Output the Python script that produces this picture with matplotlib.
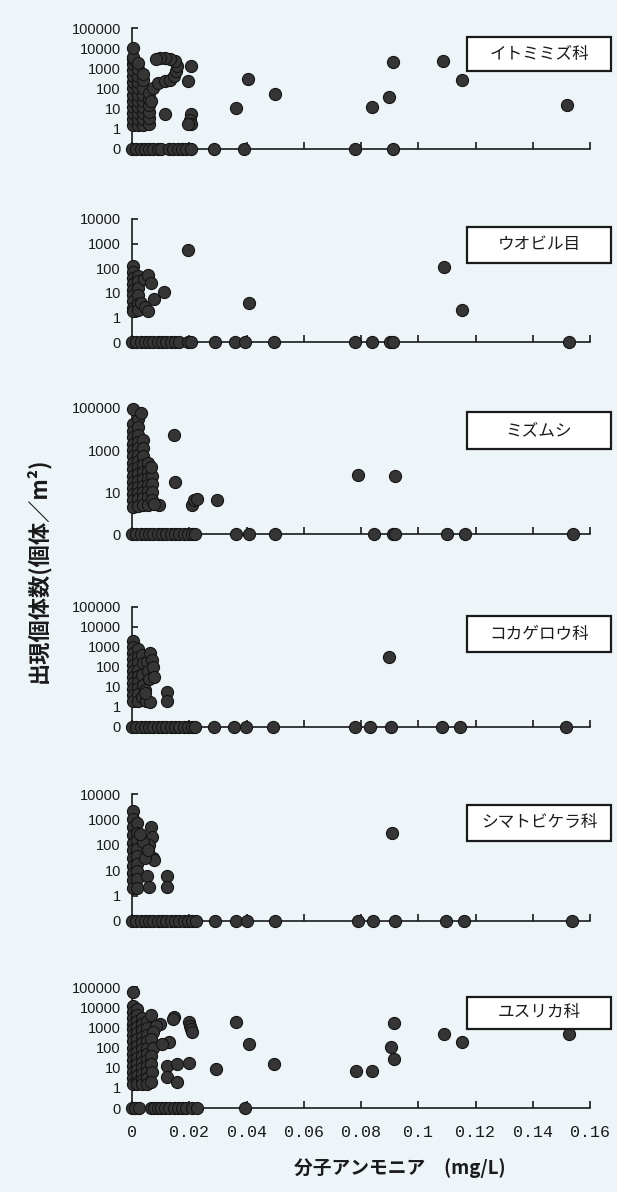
import matplotlib
matplotlib.use('Agg')
import matplotlib.pyplot as plt
from matplotlib.patches import Rectangle
from matplotlib.ticker import NullLocator

plt.rcParams['font.family'] = ['Liberation Sans', 'Noto Sans CJK JP', 'DejaVu Sans']

# ---- data ----
names = ['イトミミズ科', 'ウオビル目', 'ミズムシ', 'コカゲロウ科', 'シマトビケラ科', 'ユスリカ科']

itomimizu_x = [
    0.0004, 0.0004, 0.0004, 0.0004, 0.0004, 0.0004, 0.0004, 0.0004, 0.0004, 0.0004, 0.0004, 0.0004, 0.0004, 0.0003,
    0.0022, 0.0022, 0.0022, 0.0022, 0.0022, 0.0022, 0.0022, 0.0022, 0.0022, 0.0022, 0.0022,
    0.004, 0.004, 0.004, 0.004, 0.004, 0.004, 0.004, 0.004, 0.004,
    0.0058, 0.0058, 0.0058, 0.0058, 0.0058, 0.0058, 0.0068,
    0.0075, 0.0092, 0.0115, 0.0133, 0.0146, 0.0154, 0.0158, 0.015, 0.0134, 0.0116, 0.0098, 0.0083,
    0.0117, 0.0205, 0.0194, 0.0205, 0.0201, 0.0207, 0.0194,
    0.0362, 0.0406, 0.0498, 0.084, 0.0899, 0.0913, 0.1087, 0.1152, 0.1521]
itomimizu_y = [
    1.6, 3, 6, 12, 25, 50, 100, 200, 400, 800, 1600, 2800, 3800, 10000,
    1.6, 3, 6, 12, 25, 50, 100, 200, 400, 900, 1800,
    1.6, 3, 6, 12, 25, 50, 110, 250, 500,
    1.7, 3.5, 7, 15, 30, 60, 25,
    100, 180, 230, 270, 420, 750, 1300, 2300, 2800, 3100, 3100, 2800,
    5.6, 1350, 240, 5.6, 2.6, 1.8, 1.8,
    11, 295, 52, 12, 38, 2000, 2300, 260, 15]
itomimizu_zero_x = [0, 0.0015, 0.003, 0.0045, 0.006, 0.0075, 0.009, 0.0103, 0.0128, 0.0142, 0.016,
                    0.0175, 0.019, 0.0205, 0.0288, 0.0392, 0.078, 0.0913]

uobiru_x = [
    0.0004, 0.0004, 0.0004, 0.0004, 0.0004, 0.0004, 0.0004, 0.0004, 0.0004,
    0.002, 0.002, 0.002, 0.002, 0.002, 0.002,
    0.0041, 0.0055, 0.0065, 0.003, 0.0047, 0.0055,
    0.0077, 0.0112, 0.0195, 0.0407, 0.109, 0.1154]
uobiru_y = [
    120, 70, 40, 22, 13, 8, 4.5, 2.5, 1.9,
    50, 30, 15, 8, 3.5, 2,
    37, 53, 25, 4, 2.6, 1.9,
    5.6, 10.5, 560, 3.9, 117, 1.95]
uobiru_zero_x = [0, 0.0015, 0.003, 0.0045, 0.006, 0.0075, 0.009, 0.0105, 0.012, 0.0135, 0.015, 0.0165,
                 0.0195, 0.0205, 0.0289, 0.036, 0.0395, 0.0496, 0.078, 0.084, 0.0903, 0.0912, 0.1525]

mizumushi_x = [
    0.0004, 0.0004, 0.0004, 0.0004, 0.0004, 0.0004, 0.0004, 0.0004, 0.0004, 0.0004, 0.0004, 0.0004, 0.0004, 0.0004,
    0.002, 0.002, 0.002, 0.002, 0.002, 0.002, 0.002, 0.002, 0.002, 0.002, 0.002, 0.002, 0.002, 0.002,
    0.0038, 0.0038, 0.0038, 0.0038, 0.0038, 0.0038, 0.0038, 0.0038, 0.0038, 0.0038,
    0.0055, 0.0055, 0.0055, 0.0055, 0.0055, 0.0055, 0.0055,
    0.007, 0.007, 0.007, 0.007,
    0.0005, 0.003, 0.0067, 0.0095, 0.0078,
    0.0148, 0.015, 0.0208, 0.0215, 0.0226, 0.0297, 0.079, 0.092]
mizumushi_y = [
    18000, 8000, 4000, 2000, 1000, 500, 250, 120, 60, 30, 15, 8, 4, 2,
    30000, 12000, 5000, 2500, 1200, 600, 300, 150, 70, 35, 18, 9, 4.5, 2.2,
    3000, 1200, 500, 200, 90, 40, 20, 10, 5, 2.5,
    250, 100, 45, 22, 11, 5.5, 2.5,
    60, 25, 10, 4,
    89000, 55000, 160, 2.3, 2.6,
    5000, 30, 2.3, 4, 4.5, 4.3, 66, 60]
mizumushi_zero_x = [0, 0.0015, 0.003, 0.0045, 0.006, 0.0075, 0.009, 0.0105, 0.012, 0.0135, 0.015, 0.0165,
                    0.018, 0.0195, 0.021, 0.022, 0.0365, 0.0407, 0.0498, 0.0846, 0.0912, 0.092, 0.110,
                    0.1164, 0.1539]

kokagerou_x = [
    0.0004, 0.0004, 0.0004, 0.0004, 0.0004, 0.0004, 0.0004, 0.0004, 0.0004, 0.0004, 0.0004,
    0.002, 0.002, 0.002, 0.002, 0.002, 0.002, 0.002, 0.002, 0.002,
    0.0035, 0.0037, 0.0035, 0.0038, 0.0035, 0.0052, 0.0055, 0.0058, 0.0045, 0.005,
    0.0062, 0.0069, 0.0072, 0.0076, 0.0062, 0.0047,
    0.0123, 0.0121, 0.0898]
kokagerou_y = [
    2000, 1000, 500, 250, 120, 60, 30, 15, 8, 4, 2,
    800, 300, 150, 70, 35, 18, 9, 4.5, 2,
    400, 150, 40, 12, 3, 180, 60, 25, 7, 2,
    520, 230, 100, 30, 1.8, 5,
    5.5, 2, 300]
kokagerou_zero_x = [0, 0.0015, 0.003, 0.0045, 0.006, 0.0075, 0.009, 0.0105, 0.012, 0.0135, 0.015, 0.0165,
                    0.018, 0.0195, 0.021, 0.022, 0.0285, 0.0355, 0.0397, 0.0494, 0.078, 0.0832, 0.0906,
                    0.1083, 0.1147, 0.1515]

shimatobikera_x = [
    0.0004, 0.0004, 0.0004, 0.0004, 0.0004, 0.0004, 0.0004, 0.0004, 0.0004, 0.0004, 0.0004,
    0.0018, 0.0018, 0.0018, 0.0018, 0.0018, 0.0018, 0.0018, 0.0018, 0.0018,
    0.0066, 0.0069, 0.006, 0.004, 0.0027, 0.0072, 0.0078, 0.0047, 0.0055, 0.0051, 0.006,
    0.0124, 0.0124, 0.0909]
shimatobikera_y = [
    2100, 1000, 500, 250, 120, 60, 30, 15, 8, 4, 2,
    700, 300, 150, 70, 35, 18, 9, 4.5, 2,
    500, 200, 100, 130, 270, 30, 25, 30, 60, 6, 2.2,
    6, 2.2, 285]
shimatobikera_zero_x = [0, 0.0015, 0.003, 0.0045, 0.006, 0.0075, 0.009, 0.0105, 0.012, 0.0135, 0.015, 0.0165,
                        0.018, 0.0195, 0.021, 0.0225, 0.029, 0.0365, 0.0403, 0.0498, 0.0788, 0.0843, 0.0919,
                        0.1097, 0.116, 0.1536]

yusurika_x = [
    0.0003, 0.0003, 0.0003, 0.0003, 0.0003, 0.0003, 0.0003, 0.0003, 0.0003, 0.0003, 0.0003, 0.0003, 0.0003, 0.0003, 0.0003,
    0.0019, 0.0019, 0.0019, 0.0019, 0.0019, 0.0019, 0.0019, 0.0019, 0.0019, 0.0019, 0.0019, 0.0019, 0.0019, 0.0019,
    0.0035, 0.0035, 0.0035, 0.0035, 0.0035, 0.0035, 0.0035, 0.0035, 0.0035, 0.0035, 0.0035, 0.0035,
    0.0051, 0.0051, 0.0051, 0.0051, 0.0051, 0.0051, 0.0051, 0.0051, 0.0051, 0.0051, 0.0051,
    0.0068, 0.0099, 0.0085, 0.0072, 0.0068, 0.0072, 0.0066, 0.0068, 0.007, 0.0066, 0.0129, 0.0105,
    0.0123, 0.0158, 0.0124, 0.0158, 0.0199, 0.0146, 0.0143, 0.0199, 0.0203, 0.0206, 0.0208,
    0.0292, 0.0365, 0.0407, 0.0497, 0.0784, 0.084, 0.0905, 0.0914, 0.0914, 0.109, 0.1153, 0.1526]
yusurika_y = [
    56000, 12000, 6000, 3000, 1500, 800, 400, 200, 100, 50, 25, 12, 6, 3, 1.6,
    8000, 4000, 2000, 1000, 500, 250, 120, 60, 30, 15, 8, 4, 2, 1.5,
    3000, 1500, 700, 350, 170, 80, 40, 20, 10, 5, 2.5, 1.5,
    2000, 900, 400, 200, 100, 50, 25, 12, 6, 3, 1.6,
    4000, 1500, 1100, 600, 250, 100, 40, 15, 6, 2, 180, 150,
    12, 16, 3.4, 2, 18, 3200, 2500, 1800, 1200, 800, 560,
    8.3, 1800, 148, 16, 6.9, 6.9, 104, 28, 1600, 470, 182, 470]
yusurika_zero_x = [0, 0.0012, 0.0025, 0.0065, 0.0078, 0.009, 0.0102, 0.0115, 0.0128, 0.0146, 0.0162,
                   0.0175, 0.019, 0.021, 0.0228, 0.0395]

y_ticks = [
    [0, 1, 10, 100, 1000, 10000, 100000],
    [0, 1, 10, 100, 1000, 10000],
    [0, 10, 1000, 100000],
    [0, 1, 10, 100, 1000, 10000, 100000],
    [0, 1, 10, 100, 1000, 10000],
    [0, 1, 10, 100, 1000, 10000, 100000],
]
x_ticks = [0, 0.02, 0.04, 0.06, 0.08, 0.1, 0.12, 0.14, 0.16]

panels = [
    (itomimizu_x, itomimizu_y, itomimizu_zero_x),
    (uobiru_x, uobiru_y, uobiru_zero_x),
    (mizumushi_x, mizumushi_y, mizumushi_zero_x),
    (kokagerou_x, kokagerou_y, kokagerou_zero_x),
    (shimatobikera_x, shimatobikera_y, shimatobikera_zero_x),
    (yusurika_x, yusurika_y, yusurika_zero_x),
]

# ---- layout (pixels of a 617x1192 canvas) ----
W, H = 617, 1192
bg = '#edf5f8'
zero_pos = 0.1          # where a count of 0 sits on the log axis
ax_left, ax_right = 132, 590
ax_rows = [(28, 149), (219, 342), (408, 534), (607, 727), (794, 921), (987, 1108)]
box_rows = [(37, 71), (227, 263), (412, 449), (616, 652), (805, 841), (997, 1029)]
box_left, box_right = 467, 611
dot = dict(s=76, c='#353535', edgecolors='#141414', linewidths=0.8, clip_on=False, zorder=3)

fig = plt.figure(figsize=(W / 100, H / 100), dpi=100, facecolor=bg)

for i, (xs, ys, zx) in enumerate(panels):
    top, bot = ax_rows[i]
    ax = fig.add_axes([ax_left / W, 1 - bot / H, (ax_right - ax_left) / W, (bot - top) / H])
    ax.set_facecolor('none')
    ax.set_yscale('log')
    ax.set_xlim(0, 0.16)
    ax.set_ylim(zero_pos, max(y_ticks[i]))

    ax.scatter(xs, ys, **dot)
    ax.scatter(zx, [zero_pos] * len(zx), **dot)

    ax.set_yticks([zero_pos if v == 0 else v for v in y_ticks[i]])
    ax.set_yticklabels([str(v) for v in y_ticks[i]])
    ax.yaxis.set_minor_locator(NullLocator())
    ax.set_xticks(x_ticks)
    if i == len(panels) - 1:
        ax.set_xticklabels(['0'] + ['%g' % v for v in x_ticks[1:]],
                           family=['Liberation Mono', 'DejaVu Sans Mono'], fontsize=12)
    else:
        ax.set_xticklabels([])

    for s in ['top', 'right']:
        ax.spines[s].set_visible(False)
    for s in ['left', 'bottom']:
        ax.spines[s].set_linewidth(1.2)
        ax.spines[s].set_color('#1a1a1a')
    ax.tick_params(axis='y', direction='in', length=4, width=1.2, pad=8,
                   labelsize=10.5, colors='#1a1a1a')
    ax.tick_params(axis='x', direction='in', length=5, width=1.2, pad=12,
                   colors='#1a1a1a')

    bt, bb = box_rows[i]
    fig.patches.append(Rectangle((box_left / W, 1 - bb / H), (box_right - box_left) / W,
                                 (bb - bt) / H, transform=fig.transFigure,
                                 facecolor='white', edgecolor='#1a1a1a', linewidth=1.6, zorder=5))
    fig.text((box_left + box_right) / 2 / W, 1 - (bt + bb) / 2 / H, names[i],
             ha='center', va='center', fontsize=12, family=['Noto Sans CJK JP', 'DejaVu Sans'],
             color='#1a1a1a', zorder=6)

fig.text(38 / W, 1 - 570 / H, '出現個体数(個体／m²)', rotation=90, ha='center', va='center',
         fontsize=16, fontweight='bold', family=['Noto Sans CJK JP', 'DejaVu Sans'], color='#1a1a1a')
fig.text(400 / W, 1 - 1168 / H, '分子アンモニア　(mg/L)', ha='center', va='center',
         fontsize=13.5, fontweight='bold', family=['Noto Sans CJK JP', 'DejaVu Sans'], color='#1a1a1a')

fig.savefig('out.png', dpi=100, facecolor=bg)
